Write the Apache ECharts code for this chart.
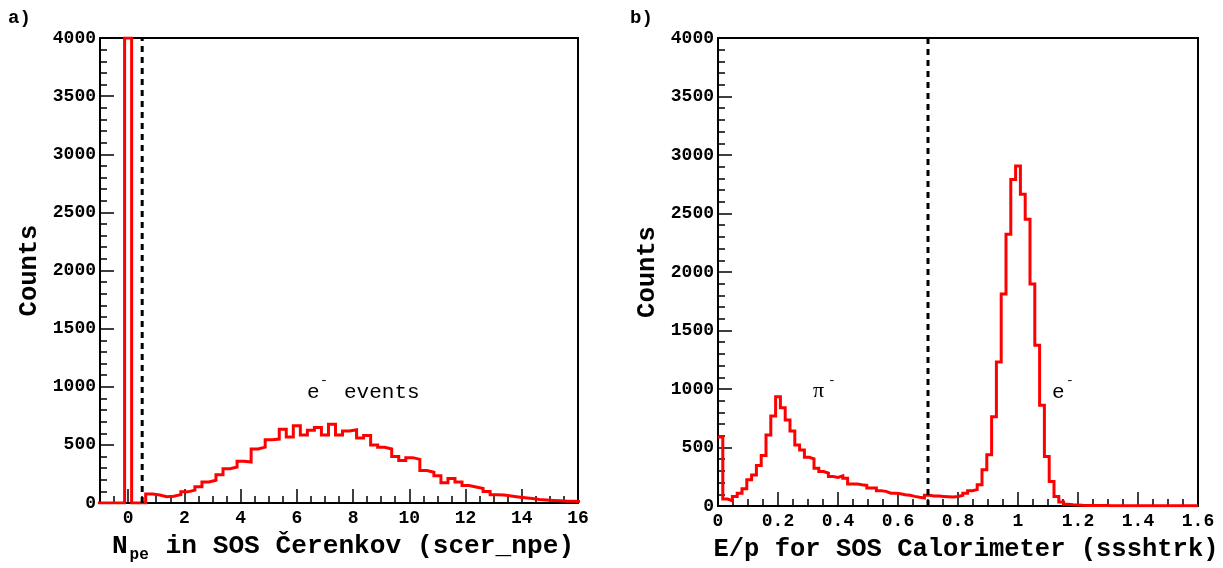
<!DOCTYPE html>
<html>
<head>
<meta charset="utf-8">
<script src="https://cdn.jsdelivr.net/npm/echarts@6/dist/echarts.min.js"></script>
<style>
  html, body { margin: 0; padding: 0; background: #fff; }
  #chart { width: 1223px; height: 568px; }
</style>
</head>
<body>
<div id="chart"></div>
<script>
// ---------- data ----------
// Left panel: N_pe histogram, bins of 0.25 centred at -1, -0.75, ..., 16 (first bin centre below)
const leftFirstCenter = -1;
const leftBinWidth = 0.25;
const leftCounts = [
  0, 0, 0, 0, 4000, 0, 0, 77, 68, 54,
  58, 72, 96, 111, 139, 181, 196, 244, 295, 309,
  360, 352, 465, 480, 545, 550, 635, 568, 664, 585,
  625, 650, 585, 678, 585, 620, 630, 560, 580, 500,
  480, 465, 400, 365, 390, 375, 280, 265, 235, 175,
  210, 180, 150, 138, 125, 98, 72, 68, 60, 52,
  45, 38, 30, 26, 22, 19, 16, 14, 12
];
// Right panel: E/p histogram, 100 bins of 0.016 from 0 to 1.6
const rightFirstEdge = 0;
const rightBinWidth = 0.016;
const rightCounts = [
  590, 60, 45, 82, 110, 147, 224, 266, 346, 431,
  607, 769, 933, 840, 735, 641, 522, 479, 417, 403,
  323, 295, 281, 252, 244, 258, 238, 187, 187, 181,
  176, 153, 153, 130, 125, 110, 110, 105, 96, 91,
  82, 74, 68, 91, 85, 85, 82, 79, 76, 82,
  92, 110, 130, 140, 181, 309, 437, 763, 1231, 1813,
  2323, 2791, 2905, 2664, 2451, 1898, 1373, 862, 423, 210,
  82, 35, 15, 10, 8, 6, 5, 5, 4, 4,
  4, 3, 3, 3, 3, 2, 2, 2, 2, 2,
  2, 2, 2, 2, 2, 2, 2, 2, 2, 2
];
const leftCut = 0.5;
const rightCut = 0.7;
const yTicks = { min: 0, max: 4000, interval: 500 };
const leftXLabels = [0, 2, 4, 6, 8, 10, 12, 14, 16];
const rightXRange = { min: 0, max: 1.6, interval: 0.2 };

// ---------- helpers ----------
function histPath(firstEdge, width, counts) {
  const pts = [];
  for (let i = 0; i < counts.length; i++) {
    const lo = firstEdge + i * width, hi = lo + width;
    pts.push([lo, counts[i]], [hi, counts[i]]);
  }
  return pts;
}

const MONO = '"Liberation Mono", "DejaVu Sans Mono", monospace';
const tickLabel = { color: '#000', fontFamily: MONO, fontWeight: 'bold', fontSize: 18 };
const nameStyle = { color: '#000', fontFamily: MONO, fontWeight: 'bold', fontSize: 25.5 };
const leftNameStyle = Object.assign({}, nameStyle, { fontSize: 26.2 });
const axisLine = { show: true, onZero: false, lineStyle: { color: '#000', width: 2 } };

function yAxisDef(gridIndex) {
  return {
    type: 'value', gridIndex, min: yTicks.min, max: yTicks.max, interval: yTicks.interval,
    name: 'Counts', nameLocation: 'middle', nameGap: 57, nameTextStyle: nameStyle,
    axisLine,
    axisTick: { show: true, inside: true, length: 14, lineStyle: { color: '#000', width: 1.5 } },
    minorTick: { show: true, splitNumber: 5, length: 7, lineStyle: { color: '#000', width: 1.5 } },
    splitLine: { show: false }, minorSplitLine: { show: false },
    axisLabel: Object.assign({ margin: 4, formatter: v => String(v) }, tickLabel)
  };
}

const chart = echarts.init(document.getElementById('chart'), null, { renderer: 'canvas' });

const option = {
  animation: false,
  backgroundColor: '#fff',
  grid: [
    { left: 100, right: 645, top: 38, bottom: 60, show: true, borderColor: '#000', borderWidth: 2, backgroundColor: 'transparent' },
    { left: 718, right: 25, top: 38, bottom: 60, show: true, borderColor: '#000', borderWidth: 2, backgroundColor: 'transparent' }
  ],
  xAxis: [
    {
      type: 'value', gridIndex: 0, min: -1, max: 16,
      name: '{b|N}{sub|pe}{b| in SOS Čerenkov (scer_npe)}',
      nameLocation: 'middle', nameGap: 30,
      nameTextStyle: {
        padding: [0, 0, 0, 8],
        rich: {
          b: Object.assign({ lineHeight: 30, verticalAlign: 'top' }, leftNameStyle),
          sub: Object.assign({}, leftNameStyle, { fontSize: 16, lineHeight: 12, verticalAlign: 'bottom', padding: [0, 1, 0, 2] })
        }
      },
      axisLine,
      axisTick: { show: true, inside: true, length: 14, customValues: leftXLabels, lineStyle: { color: '#000', width: 1.5 } },
      axisLabel: Object.assign({ margin: 6, customValues: leftXLabels, formatter: v => String(v) }, tickLabel),
      splitLine: { show: false }
    },
    {
      type: 'value', gridIndex: 0, min: -1, max: 16, interval: 0.5, position: 'bottom',
      axisLine: { show: false, onZero: false },
      axisTick: { show: true, inside: true, length: 7, lineStyle: { color: '#000', width: 1.5 } },
      axisLabel: { show: false },
      splitLine: { show: false }
    },
    {
      type: 'value', gridIndex: 1, min: rightXRange.min, max: rightXRange.max, interval: rightXRange.interval,
      name: 'E/p for SOS Calorimeter (ssshtrk)',
      nameLocation: 'middle', nameGap: 31,
      nameTextStyle: Object.assign({ padding: [0, 0, 0, 16] }, nameStyle),
      axisLine,
      axisTick: { show: true, inside: true, length: 14, lineStyle: { color: '#000', width: 1.5 } },
      minorTick: { show: true, splitNumber: 4, length: 7, lineStyle: { color: '#000', width: 1.5 } },
      splitLine: { show: false }, minorSplitLine: { show: false },
      axisLabel: Object.assign({ margin: 6, formatter: v => String(+v.toFixed(1)) }, tickLabel)
    }
  ],
  yAxis: [yAxisDef(0), yAxisDef(1)],
  series: [
    {
      type: 'line', xAxisIndex: 0, yAxisIndex: 0, symbol: 'none', clip: true,
      data: histPath(leftFirstCenter - leftBinWidth / 2, leftBinWidth, leftCounts),
      lineStyle: { color: '#ff0000', width: 3, join: 'miter' }, z: 3
    },
    {
      type: 'line', xAxisIndex: 0, yAxisIndex: 0, symbol: 'none',
      data: [[leftCut, yTicks.min], [leftCut, yTicks.max]],
      lineStyle: { color: '#000', width: 3, type: [6, 5] }, z: 4
    },
    {
      type: 'line', xAxisIndex: 2, yAxisIndex: 1, symbol: 'none', clip: true,
      data: histPath(rightFirstEdge, rightBinWidth, rightCounts),
      lineStyle: { color: '#ff0000', width: 3, join: 'miter' }, z: 3
    },
    {
      type: 'line', xAxisIndex: 2, yAxisIndex: 1, symbol: 'none',
      data: [[rightCut, yTicks.min], [rightCut, yTicks.max]],
      lineStyle: { color: '#000', width: 3, type: [6, 5] }, z: 4
    }
  ],
  graphic: [
    { type: 'text', left: 8, top: 9, style: { text: 'a)', font: 'bold 19px ' + MONO, fill: '#000' } },
    { type: 'text', left: 630, top: 9, style: { text: 'b)', font: 'bold 19px ' + MONO, fill: '#000' } },
    // left annotation "e- events"
    { type: 'text', x: 307, y: 392, style: { text: 'e', font: '21px ' + MONO, fill: '#000', verticalAlign: 'middle' } },
    { type: 'text', x: 320, y: 381, style: { text: '-', font: '13px ' + MONO, fill: '#000', verticalAlign: 'middle' } },
    { type: 'text', x: 344, y: 392, style: { text: 'events', font: '21px ' + MONO, fill: '#000', verticalAlign: 'middle' } },
    // right annotations
    { type: 'text', x: 813, y: 391, style: { text: 'π', font: '22px "Liberation Serif", "DejaVu Serif", serif', fill: '#000', verticalAlign: 'middle' } },
    { type: 'text', x: 828, y: 381, style: { text: '-', font: '13px ' + MONO, fill: '#000', verticalAlign: 'middle' } },
    { type: 'text', x: 1052, y: 392, style: { text: 'e', font: '21px ' + MONO, fill: '#000', verticalAlign: 'middle' } },
    { type: 'text', x: 1066, y: 381, style: { text: '-', font: '13px ' + MONO, fill: '#000', verticalAlign: 'middle' } }
  ]
};
chart.setOption(option);
</script>
</body>
</html>
